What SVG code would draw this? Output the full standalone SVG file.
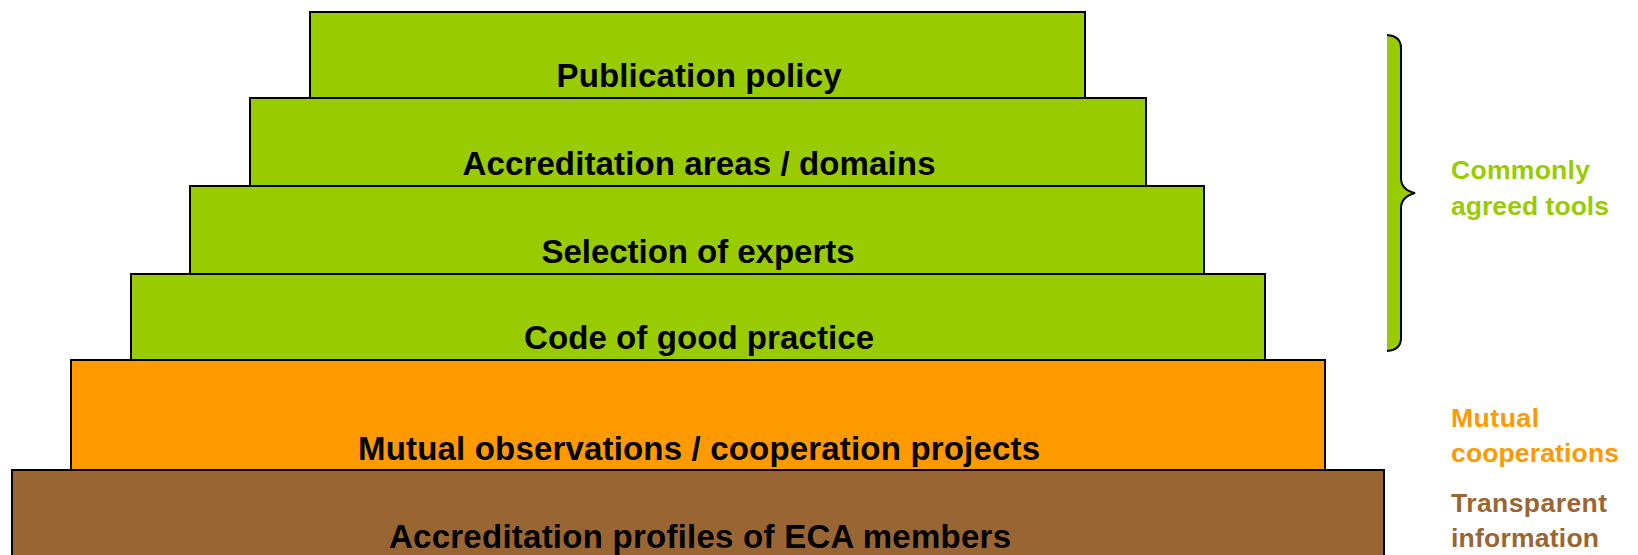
<svg xmlns="http://www.w3.org/2000/svg" width="1638" height="555" viewBox="0 0 1638 555">
<style>
.box{stroke:#000;stroke-width:2}
.g{fill:#99CC00}.o{fill:#FF9900}.b{fill:#996633}
.lbl{font-family:"Liberation Sans",Arial,sans-serif;font-weight:bold;font-size:33px;fill:#000;text-anchor:middle}
.side{font-family:"Liberation Sans",Arial,sans-serif;font-weight:bold;font-size:26.5px}
</style>
<rect width="1638" height="555" fill="#fff"/>
<g id="profiles"><rect class="box b" x="12" y="470" width="1372" height="95"/><text class="lbl" x="700" y="548" textLength="622">Accreditation profiles of ECA members</text></g>
<g id="mutual"><rect class="box o" x="71" y="360" width="1254" height="110"/><text class="lbl" x="699" y="460" textLength="682">Mutual observations / cooperation projects</text></g>
<g id="code"><rect class="box g" x="131" y="274" width="1134" height="86"/><text class="lbl" x="699" y="349" textLength="350">Code of good practice</text></g>
<g id="selection"><rect class="box g" x="190" y="186" width="1014" height="88"/><text class="lbl" x="698" y="263" textLength="313">Selection of experts</text></g>
<g id="areas"><rect class="box g" x="250" y="98" width="896" height="88"/><text class="lbl" x="699" y="175" textLength="473">Accreditation areas / domains</text></g>
<g id="publication"><rect class="box g" x="310" y="12" width="775" height="86"/><text class="lbl" x="699" y="87" textLength="285">Publication policy</text></g>
<g id="brace">
<path d="M1387,35 Q1401,36 1401,48 L1401,178 Q1401,190 1415,193 Q1401,197 1401,208 L1401,338 Q1401,350 1387,351 Z" fill="#99CC00"/>
<path d="M1387,35 Q1401,36 1401,48 L1401,178 Q1401,190 1415,193 Q1401,197 1401,208 L1401,338 Q1401,350 1387,351" fill="none" stroke="#000" stroke-width="2"/>
</g>
<g id="legend">
<text class="side" fill="#99CC00" x="1451" y="179" textLength="139">Commonly</text>
<text class="side" fill="#99CC00" x="1451" y="215" textLength="158">agreed tools</text>
<text class="side" fill="#FF9900" x="1451" y="427" textLength="88">Mutual</text>
<text class="side" fill="#FF9900" x="1451" y="462" textLength="168">cooperations</text>
<text class="side" fill="#996633" x="1451" y="512" textLength="156">Transparent</text>
<text class="side" fill="#996633" x="1451" y="547" textLength="148">information</text>
</g>
</svg>
